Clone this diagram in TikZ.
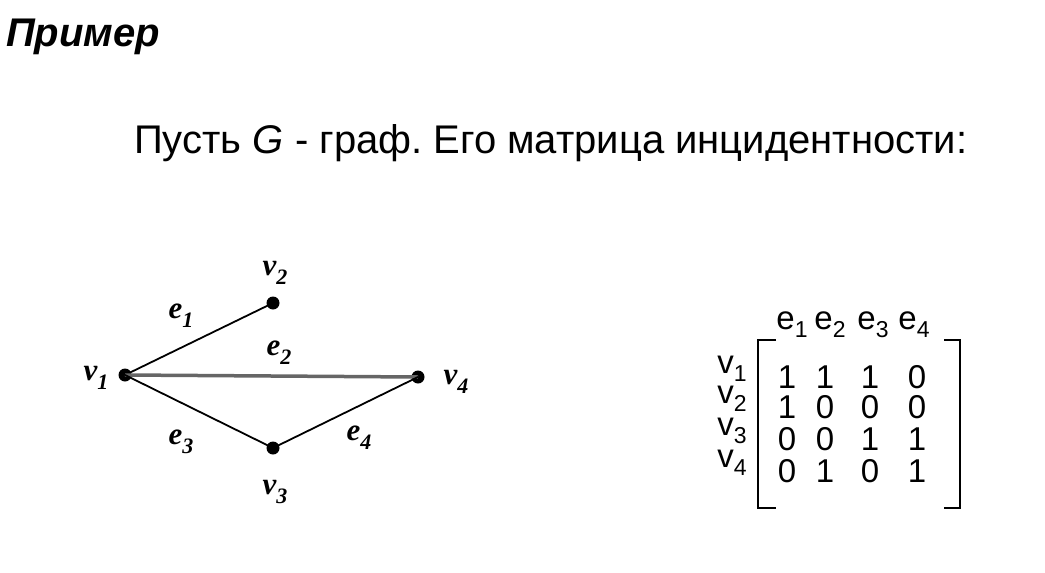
\documentclass[tikz,border=0pt]{standalone}
\usepackage{fontspec}
\setmainfont{Liberation Sans}
\newfontfamily\serifit{Liberation Serif}
\newcommand{\glsub}[2]{#1\raisebox{-9pt}{\fontsize{22}{24}\selectfont #2}}
\newcommand{\msub}[2]{#1\raisebox{-8pt}{\fontsize{23}{25}\selectfont #2}}
\begin{document}
\frenchspacing
\begin{tikzpicture}[x=1pt,y=-1pt,
  dot/.style={circle,fill=black,inner sep=0pt,minimum size=13pt},
  glab/.style={font=\serifit\bfseries\itshape\fontsize{31}{34}\selectfont,inner sep=0pt,anchor=base},
  mat/.style={font=\fontsize{33}{36}\selectfont,inner sep=0pt,anchor=base},
  edge/.style={line width=1.8pt},
  bracket/.style={line width=2pt}]
\useasboundingbox (0,0) rectangle (1045,573);
\node[anchor=base west,inner sep=0pt,font=\bfseries\itshape\fontsize{40}{44}\selectfont] (title) at (6,46) {Пример};
\node[anchor=base west,inner sep=0pt,font=\fontsize{40}{46}\selectfont] (intro) at (134,153) {Пусть \textit{G} - граф. Его матрица инцидентности:};
% graph
\node[dot] (v1) at (125,375) {};
\node[dot] (v2) at (273,303) {};
\node[dot] (v3) at (273,448) {};
\node[dot] (v4) at (418,377) {};
\draw[edge] (v1.center) -- (v2.center);
\draw[line width=3.5pt,gray!80!black] (v1.center) -- (v4.center);
\draw[edge] (v1.center) -- (v3.center);
\draw[edge] (v3.center) -- (v4.center);
\node[glab] (lv1) at (96,380) {\glsub{v}{1}};
\node[glab] (lv2) at (275,275) {\glsub{v}{2}};
\node[glab] (lv3) at (275,494) {\glsub{v}{3}};
\node[glab] (lv4) at (456,384) {\glsub{v}{4}};
\node[glab] (le1) at (181,318) {\glsub{e}{1}};
\node[glab] (le2) at (279,355) {\glsub{e}{2}};
\node[glab] (le3) at (181,444) {\glsub{e}{3}};
\node[glab] (le4) at (359,440) {\glsub{e}{4}};
% matrix
\foreach \x/\i in {792/1,830/2,873/3,914/4}
  \node[mat] (h\i) at (\x,329) {\msub{e}{\i}};
\foreach \y/\i in {373/1,403/2,435/3,467/4}
  \node[mat] (r\i) at (732,\y) {\msub{v}{\i}};
\foreach \y/\i/\a/\b/\c/\d in {388/1/1/1/1/0,418/2/1/0/0/0,450/3/0/0/1/1,482/4/0/1/0/1}{
  \node[mat] (m\i1) at (787,\y) {\a};
  \node[mat] (m\i2) at (825,\y) {\b};
  \node[mat] (m\i3) at (870,\y) {\c};
  \node[mat] (m\i4) at (917,\y) {\d};
}
\coordinate (lt) at (776,340);
\coordinate (lb) at (776,508);
\coordinate (rt) at (944,340);
\coordinate (rb) at (944,508);
\draw[bracket] (lt) -| (758,508) -- (lb);
\draw[bracket] (rt) -| (960,508) -- (rb);
\end{tikzpicture}
\end{document}
